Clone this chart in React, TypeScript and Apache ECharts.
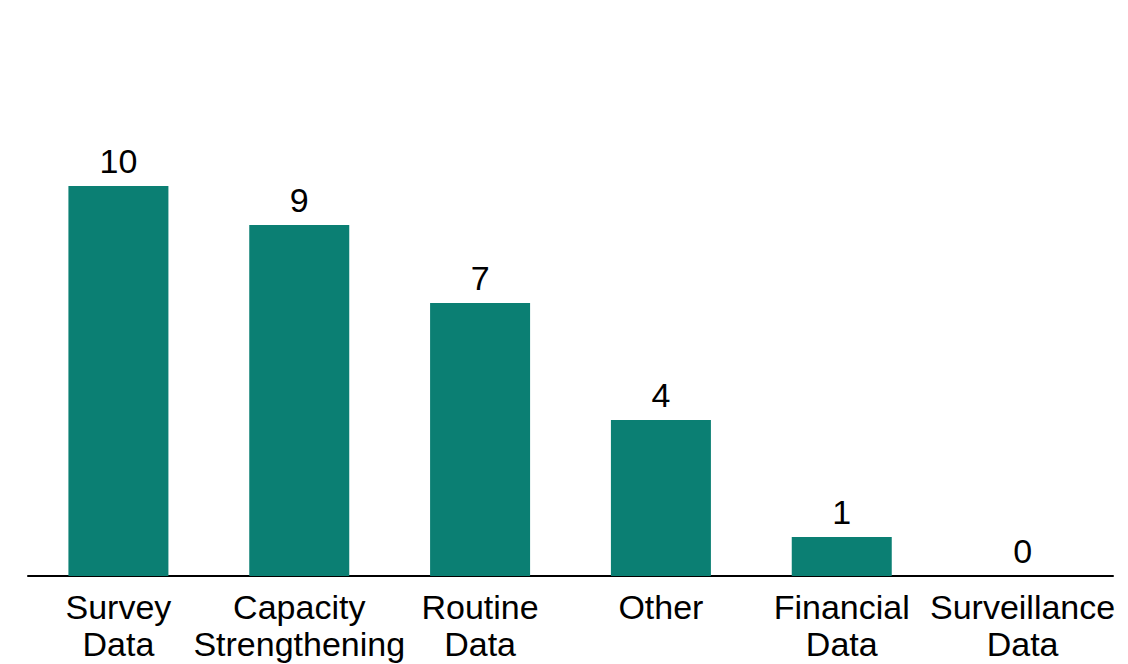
import React, { useEffect, useRef } from "react";
import * as echarts from "echarts";

const categories = [
  "Survey\nData",
  "Capacity\nStrengthening",
  "Routine\nData",
  "Other",
  "Financial\nData",
  "Surveillance\nData",
];
const values = [10, 9, 7, 4, 1, 0];

export default function App() {
  const ref = useRef<HTMLDivElement>(null);
  useEffect(() => {
    if (!ref.current) return;
    const chart = echarts.init(ref.current, undefined, { renderer: "svg" });
    chart.setOption({
      animation: false,
      backgroundColor: "#ffffff",
      textStyle: { fontFamily: "Liberation Sans, Arial, sans-serif" },
      grid: { left: 28, right: 15, top: 108, bottom: 88, containLabel: false },
      xAxis: {
        type: "category",
        data: categories,
        axisLine: { show: true, lineStyle: { color: "#000000", width: 2 } },
        axisTick: { show: false },
        axisLabel: {
          color: "#000000",
          fontSize: 34,
          lineHeight: 37,
          margin: 12,
          interval: 0,
          fontFamily: "Liberation Sans, Arial, sans-serif",
        },
      },
      yAxis: {
        type: "value",
        min: 0,
        max: 12,
        show: false,
        splitLine: { show: false },
      },
      series: [
        {
          type: "bar",
          data: values,
          barWidth: 100,
          itemStyle: { color: "#0b7f73" },
          label: {
            show: true,
            position: "top",
            distance: 8,
            color: "#000000",
            fontSize: 34,
            fontFamily: "Liberation Sans, Arial, sans-serif",
          },
        },
      ],
    });
    return () => chart.dispose();
  }, []);
  return (
    <div
      ref={ref}
      style={{ position: "absolute", left: 0, top: 0, width: 1128, height: 664 }}
    />
  );
}
